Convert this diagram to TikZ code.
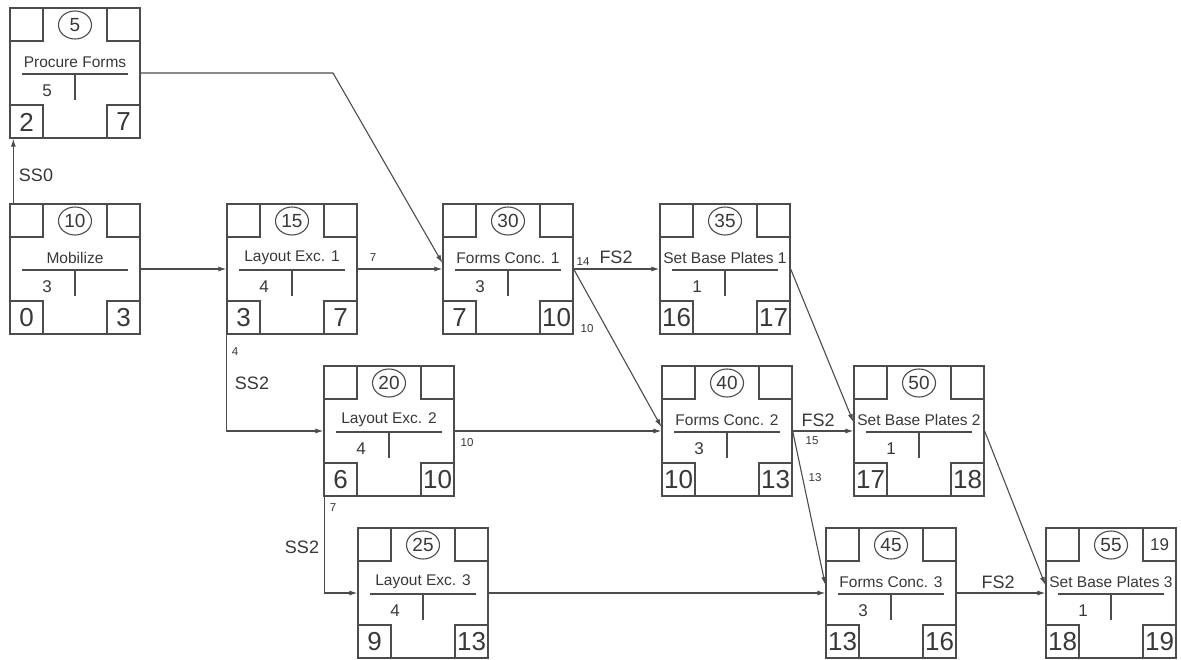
\documentclass[tikz,border=0pt]{standalone}
\usepackage{fontspec}
\setmainfont{Liberation Sans}
\usetikzlibrary{arrows.meta,shapes.geometric}
\definecolor{lineg}{rgb}{0.30,0.30,0.30}
\definecolor{textg}{rgb}{0.22,0.22,0.22}
\tikzset{
  actbox/.style={draw=lineg,line width=1.3pt,rectangle,minimum width=130pt,minimum height=130pt,inner sep=0pt},
  inner/.style={draw=lineg,line width=1.2pt},
  numcirc/.style={draw=lineg,line width=1.1pt,ellipse,minimum width=33pt,minimum height=28pt,inner sep=0pt,text=textg,font=\fontsize{19}{19}\selectfont},
  namet/.style={inner sep=0pt,text=textg,font=\fontsize{15.5}{16}\selectfont},
  durt/.style={inner sep=0pt,text=textg,font=\fontsize{17}{17}\selectfont},
  bigt/.style={inner sep=0pt,text=textg,font=\fontsize{26}{26}\selectfont},
  midt/.style={inner sep=0pt,text=textg,font=\fontsize{17}{17}\selectfont},
  lab/.style={inner sep=0pt,text=textg,font=\fontsize{18}{18}\selectfont},
  smalllab/.style={inner sep=0pt,text=textg,font=\fontsize{11.5}{12}\selectfont},
  conn/.style={draw=lineg,line width=1.1pt,-{Latex[length=8pt,width=5pt]}},
}
\newcommand\actnode[9]{%
  \begin{scope}[shift={(#2,#3)}]
    \node[actbox] (#1) at (65,65) {};
    \draw[inner] (0,0) rectangle (33,33) (97,0) rectangle (130,33)
                 (0,97) rectangle (33,130) (97,97) rectangle (130,130);
    \node[numcirc] (#1-id) at (65,17) {#4};
    \node[namet] (#1-name) at (65,54) {#5};
    \draw[inner] (12,66) -- (118,66) (65,67) -- (65,92);
    \node[durt] (#1-dur) at (37,83) {#6};
    \node[bigt] (#1-es) at (16.5,114) {#7};
    \node[bigt] (#1-ef) at (113.5,114) {#8};
    \node[midt] (#1-lf) at (113.5,17) {#9};
  \end{scope}%
}
\begin{document}
\begin{tikzpicture}[x=1pt,y=-1pt]
\useasboundingbox (0,0) rectangle (1181,660);
\actnode{a5}{10}{8}{5}{Procure Forms}{5}{2}{7}{}
\actnode{a10}{10}{204}{10}{Mobilize}{3}{0}{3}{}
\actnode{a15}{227}{204}{15}{Layout Exc. 1}{4}{3}{7}{}
\actnode{a30}{443}{204}{30}{Forms Conc. 1}{3}{7}{10}{}
\actnode{a35}{660}{204}{35}{Set Base Plates 1}{1}{16}{17}{}
\actnode{a20}{324}{366}{20}{Layout Exc. 2}{4}{6}{10}{}
\actnode{a40}{662}{366}{40}{Forms Conc. 2}{3}{10}{13}{}
\actnode{a50}{854}{366}{50}{Set Base Plates 2}{1}{17}{18}{}
\actnode{a25}{358}{528}{25}{Layout Exc. 3}{4}{9}{13}{}
\actnode{a45}{826}{528}{45}{Forms Conc. 3}{3}{13}{16}{}
\actnode{a55}{1046}{528}{55}{Set Base Plates 3}{1}{18}{19}{19}
% connectors
\coordinate (bend1) at (333,73);
\draw[conn] ([xshift=4pt]a10.north west) -- ([xshift=4pt]a5.south west);
\draw[conn] (a10.east) -- (a15.west);
\draw[conn] (a5.east) -- (bend1) -- ([yshift=6pt]a30.west);
\draw[conn] (a15.east) -- (a30.west);
\draw[conn] (a30.east) -- (a35.west);
\draw[conn] (a30.east) -- ([yshift=4pt]a40.west);
\draw[conn] (a35.east) -- ([yshift=9pt]a50.west);
\draw[conn] ([xshift=0.5pt]a15.south west) |- (a20.west);
\draw[conn] (a20.east) -- (a40.west);
\draw[conn] (a40.east) -- (a50.west);
\draw[conn] (a40.east) -- ([yshift=8pt]a45.west);
\draw[conn] ([xshift=1pt]a20.south west) |- (a25.west);
\draw[conn] (a25.east) -- (a45.west);
\draw[conn] (a45.east) -- (a55.west);
\draw[conn] (a50.east) -- ([yshift=8pt]a55.west);
% labels
\node[lab] (l1) at (36,175) {SS0};
\node[smalllab] (l2) at (373,258) {7};
\node[smalllab] (l3) at (235,352) {4};
\node[lab] (l4) at (252,383) {SS2};
\node[smalllab] (l5) at (467,443) {10};
\node[smalllab] (l6) at (333,508) {7};
\node[lab] (l7) at (302,547) {SS2};
\node[smalllab] (l8) at (583,262) {14};
\node[lab] (l9) at (616,257) {FS2};
\node[smalllab] (l10) at (587,329) {10};
\node[lab] (l11) at (818,420) {FS2};
\node[smalllab] (l12) at (812,441) {15};
\node[smalllab] (l13) at (815,478) {13};
\node[lab] (l14) at (998,582) {FS2};
\end{tikzpicture}
\end{document}
